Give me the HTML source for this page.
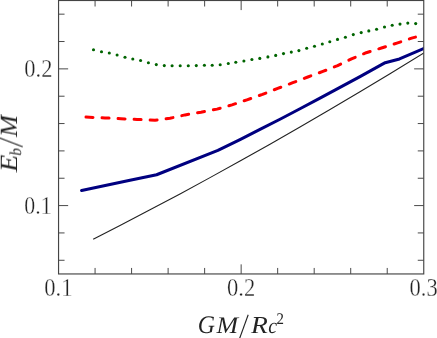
<!DOCTYPE html>
<html><head><meta charset="utf-8"><title>plot</title>
<style>
html,body{margin:0;padding:0;background:#fff;}
svg{display:block;}
text{font-family:"Liberation Serif",serif;fill:#222;stroke:#fff;stroke-width:0.3px;vector-effect:non-scaling-stroke;}
.tx{will-change:transform;}
.lb text{stroke-width:0.18px;text-rendering:geometricPrecision;}
.it{font-style:italic;}
</style></head>
<body>
<svg width="437" height="338" viewBox="0 0 437 338">
<rect x="0" y="0" width="437" height="338" fill="#fff"/>
<defs><clipPath id="cp"><rect x="58.55" y="0.5" width="365.20" height="273.45"/></clipPath></defs>
<g clip-path="url(#cp)">
<polyline points="93.2,239.27 120.0,225.53 150.0,209.86 180.0,193.89 210.0,177.62 240.0,161.05 270.0,144.19 300.0,127.02 330.0,109.55 360.0,91.79 390.0,73.72 428.0,50.41" fill="none" stroke="#222" stroke-width="1.1"/>
<polyline points="81.6,190.45 130.0,180.35 156.6,174.75 217.9,150.45 240.0,139.55 260.0,129.45 280.0,119.25 300.0,108.75 320.0,98.15 340.0,87.45 360.0,76.55 385.2,62.65 399.5,58.95 423.6,48.55 428.0,46.65" fill="none" stroke="#000080" stroke-width="3.05" stroke-linecap="round" stroke-linejoin="round"/>
<polyline points="86.0,117.10 105.0,117.90 121.0,118.70 137.0,119.40 155.0,120.30 170.0,118.30 185.0,114.90 201.0,112.20 217.0,109.10 232.0,104.90 247.0,99.80 262.5,94.40 277.7,88.40 292.8,82.70 307.8,77.00 322.9,71.40 337.6,65.60 351.5,58.90 366.2,52.70 381.5,48.00 396.9,43.10 412.5,37.90 415.5,37.10" fill="none" stroke="#ff0000" stroke-width="3.0" stroke-linecap="round" stroke-linejoin="round" stroke-dasharray="7.0 9.05"/>
<g fill="#006400"><circle cx="93.5" cy="49.7" r="1.55"/><circle cx="101.5" cy="51.7" r="1.55"/><circle cx="109.3" cy="53.0" r="1.55"/><circle cx="117.1" cy="55.0" r="1.55"/><circle cx="125.0" cy="57.2" r="1.55"/><circle cx="132.8" cy="59.0" r="1.55"/><circle cx="140.6" cy="60.5" r="1.55"/><circle cx="148.4" cy="62.8" r="1.55"/><circle cx="156.3" cy="64.6" r="1.55"/><circle cx="164.3" cy="65.6" r="1.55"/><circle cx="172.1" cy="65.8" r="1.55"/><circle cx="180.2" cy="65.8" r="1.55"/><circle cx="188.3" cy="65.8" r="1.55"/><circle cx="196.3" cy="65.6" r="1.55"/><circle cx="204.4" cy="65.3" r="1.55"/><circle cx="212.2" cy="65.3" r="1.55"/><circle cx="220.2" cy="64.8" r="1.55"/><circle cx="228.3" cy="63.5" r="1.55"/><circle cx="235.8" cy="62.3" r="1.55"/><circle cx="243.9" cy="61.0" r="1.55"/><circle cx="251.9" cy="59.5" r="1.55"/><circle cx="259.8" cy="58.4" r="1.55"/><circle cx="267.9" cy="56.9" r="1.55"/><circle cx="275.7" cy="55.4" r="1.55"/><circle cx="283.5" cy="53.6" r="1.55"/><circle cx="291.3" cy="52.1" r="1.55"/><circle cx="298.9" cy="50.6" r="1.55"/><circle cx="306.7" cy="48.3" r="1.55"/><circle cx="314.5" cy="46.3" r="1.55"/><circle cx="322.3" cy="44.0" r="1.55"/><circle cx="329.8" cy="41.8" r="1.55"/><circle cx="337.5" cy="39.4" r="1.55"/><circle cx="345.4" cy="37.2" r="1.55"/><circle cx="353.3" cy="34.6" r="1.55"/><circle cx="361.2" cy="32.6" r="1.55"/><circle cx="368.8" cy="30.9" r="1.55"/><circle cx="376.6" cy="29.2" r="1.55"/><circle cx="384.5" cy="27.0" r="1.55"/><circle cx="392.2" cy="25.3" r="1.55"/><circle cx="400.0" cy="24.1" r="1.55"/><circle cx="407.8" cy="23.1" r="1.55"/><circle cx="415.7" cy="23.6" r="1.55"/></g>
</g>
<!-- frame -->
<path d="M95.07 273.95 v-6.0 M95.07 0.5 v6.0 M131.59 273.95 v-6.0 M131.59 0.5 v6.0 M168.11 273.95 v-6.0 M168.11 0.5 v6.0 M204.63 273.95 v-6.0 M204.63 0.5 v6.0 M241.15 273.95 v-9.6 M241.15 0.5 v9.6 M277.67 273.95 v-6.0 M277.67 0.5 v6.0 M314.19 273.95 v-6.0 M314.19 0.5 v6.0 M350.71 273.95 v-6.0 M350.71 0.5 v6.0 M387.23 273.95 v-6.0 M387.23 0.5 v6.0 M58.55 260.28 h6.0 M423.75 260.28 h-6.0 M58.55 232.93 h6.0 M423.75 232.93 h-6.0 M58.55 205.59 h9.6 M423.75 205.59 h-9.6 M58.55 178.24 h6.0 M423.75 178.24 h-6.0 M58.55 150.90 h6.0 M423.75 150.90 h-6.0 M58.55 123.55 h6.0 M423.75 123.55 h-6.0 M58.55 96.21 h6.0 M423.75 96.21 h-6.0 M58.55 68.86 h9.6 M423.75 68.86 h-9.6 M58.55 41.52 h6.0 M423.75 41.52 h-6.0 M58.55 14.17 h6.0 M423.75 14.17 h-6.0" fill="none" stroke="#4a4a4a" stroke-width="1"/>
<rect x="58.55" y="0.5" width="365.20" height="273.45" fill="none" stroke="#444" stroke-width="1.15"/>
<!-- tick labels -->
<g class="tx"><text transform="translate(44.30,295.52) scale(0.1128,0.1250)" font-size="200">0.1</text><text transform="translate(227.10,295.52) scale(0.1128,0.1250)" font-size="200">0.2</text><text transform="translate(409.60,295.52) scale(0.1128,0.1250)" font-size="200">0.3</text><text transform="translate(24.30,77.12) scale(0.1124,0.1250)" font-size="200">0.2</text><text transform="translate(24.30,213.93) scale(0.1092,0.1250)" font-size="200">0.1</text></g>
<!-- x label -->
<g class="tx lb"><text transform="translate(197.70,332.65) scale(0.1188,0.1261)" font-size="200" font-style="italic">G</text><text transform="translate(216.39,332.60) scale(0.1296,0.1191)" font-size="200" font-style="italic">M</text><text transform="translate(251.08,332.70) scale(0.1379,0.1221)" font-size="200" font-style="italic">R</text><text transform="translate(268.30,332.68) scale(0.1000,0.1083)" font-size="200" font-style="italic">c</text><text transform="translate(276.50,323.60) scale(0.0740,0.0811)" font-size="200">2</text></g>
<path d="M248.2 314.8 L239.4 339" stroke="#222" stroke-width="1.1" fill="none"/>
<!-- y label -->
<g transform="translate(0,171.6) rotate(-90)" class="tx lb"><text transform="translate(-0.28,17.00) scale(0.1408,0.1237)" font-size="200" font-style="italic">E</text><text transform="translate(16.00,20.74) scale(0.0750,0.0816)" font-size="200" font-style="italic">b</text><text transform="translate(34.69,17.00) scale(0.1307,0.1237)" font-size="200" font-style="italic">M</text>
<path d="M24.8 22.75 L34.0 -1.3" stroke="#222" stroke-width="1.1" fill="none"/>
</g>
</svg>
</body></html>
